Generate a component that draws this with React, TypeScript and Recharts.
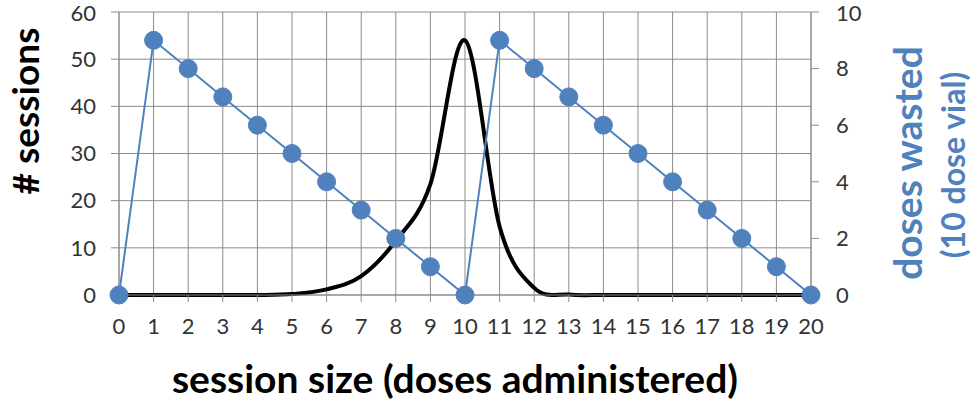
import { LineChart, Line, XAxis, YAxis, CartesianGrid } from "recharts";

const sizes = [0, 1, 2, 3, 4, 5, 6, 7, 8, 9, 10, 11, 12, 13, 14, 15, 16, 17, 18, 19, 20];
const sessions = [0, 0, 0, 0, 0, 0.2, 1.2, 4, 11.5, 23.5, 54, 14.5, 1.5, 0.1, 0, 0, 0, 0, 0, 0, 0];
const wasted = [0, 9, 8, 7, 6, 5, 4, 3, 2, 1, 0, 9, 8, 7, 6, 5, 4, 3, 2, 1, 0];
const sessionTicks = [0, 10, 20, 30, 40, 50, 60];
const wastedTicks = [0, 2, 4, 6, 8, 10];

const data = sizes.map((s, i) => ({ size: s, sessions: sessions[i], wasted: wasted[i] }));

const FONT = "Lato, 'Open Sans', sans-serif";
const BLUE = "#4F81BD";
const GRID = "#8c8c8c";
const TICK = { fontSize: 22, fill: "#333", fontFamily: FONT };

const titleStyle = { fontFamily: FONT, fontWeight: 700 };

// excel-like smoothed line (catmull-rom through the points)
const excelSmooth = (ctx: any) => {
  let pts: number[][] = [];
  return {
    areaStart() {},
    areaEnd() {},
    lineStart() {
      pts = [];
    },
    point(x: number, y: number) {
      pts.push([+x, +y]);
    },
    lineEnd() {
      if (!pts.length) return;
      ctx.moveTo(pts[0][0], pts[0][1]);
      for (let i = 0; i < pts.length - 1; i++) {
        const p0 = pts[i - 1] || pts[i];
        const p1 = pts[i];
        const p2 = pts[i + 1];
        const p3 = pts[i + 2] || p2;
        ctx.bezierCurveTo(
          p1[0] + (p2[0] - p0[0]) / 6,
          p1[1] + (p2[1] - p0[1]) / 6,
          p2[0] - (p3[0] - p1[0]) / 6,
          p2[1] - (p3[1] - p1[1]) / 6,
          p2[0],
          p2[1]
        );
      }
    },
  };
};

const LeftTitle = () => (
  <text
    x={24}
    y={111}
    transform="rotate(-90 24 111)"
    textAnchor="middle"
    dominantBaseline="central"
    fill="#000"
    style={{ ...titleStyle, fontSize: 37 }}
  >
    # sessions
  </text>
);

const RightTitle = () => (
  <g>
    <text
      x={907}
      y={163}
      transform="rotate(-90 907 163)"
      textAnchor="middle"
      dominantBaseline="central"
      fill={BLUE}
      style={{ ...titleStyle, fontSize: 39 }}
    >
      doses wasted
    </text>
    <text
      x={952}
      y={165}
      transform="rotate(-90 952 165)"
      textAnchor="middle"
      dominantBaseline="central"
      fill={BLUE}
      style={{ ...titleStyle, fontSize: 32 }}
    >
      (10 dose vial)
    </text>
  </g>
);

const BottomTitle = () => (
  <text
    x={455}
    y={378}
    textAnchor="middle"
    dominantBaseline="central"
    fill="#000"
    style={{ ...titleStyle, fontSize: 39 }}
  >
    session size (doses administered)
  </text>
);

export default function App() {
  return (
    <div style={{ width: 971, height: 404, background: "#fff" }}>
      <style>{"body{margin:0}"}</style>
      <LineChart width={971} height={404} data={data} margin={{ top: 12, right: 0, bottom: 0, left: 0 }}>
        <CartesianGrid yAxisId="left" stroke={GRID} strokeWidth={1} />
        <XAxis
          dataKey="size"
          type="number"
          domain={[0, 20]}
          ticks={sizes}
          interval={0}
          height={109}
          tick={TICK}
          tickSize={7}
          tickMargin={16}
          stroke={GRID}
          label={() => <BottomTitle />}
        />
        <YAxis
          yAxisId="left"
          domain={[0, 60]}
          ticks={sessionTicks}
          width={119}
          tick={TICK}
          tickSize={8}
          tickMargin={15}
          stroke={GRID}
          label={() => <LeftTitle />}
        />
        <YAxis
          yAxisId="right"
          orientation="right"
          domain={[0, 10]}
          ticks={wastedTicks}
          width={160}
          tick={TICK}
          tickSize={8}
          tickMargin={17}
          stroke={GRID}
          label={() => <RightTitle />}
        />
        <Line
          yAxisId="left"
          dataKey="sessions"
          type={excelSmooth as any}
          stroke="#000"
          strokeWidth={4}
          dot={false}
          isAnimationActive={false}
        />
        <Line
          yAxisId="right"
          dataKey="wasted"
          type="linear"
          stroke={BLUE}
          strokeWidth={2}
          dot={{ r: 9, fill: BLUE, stroke: BLUE, strokeWidth: 1 }}
          isAnimationActive={false}
        />
      </LineChart>
    </div>
  );
}
